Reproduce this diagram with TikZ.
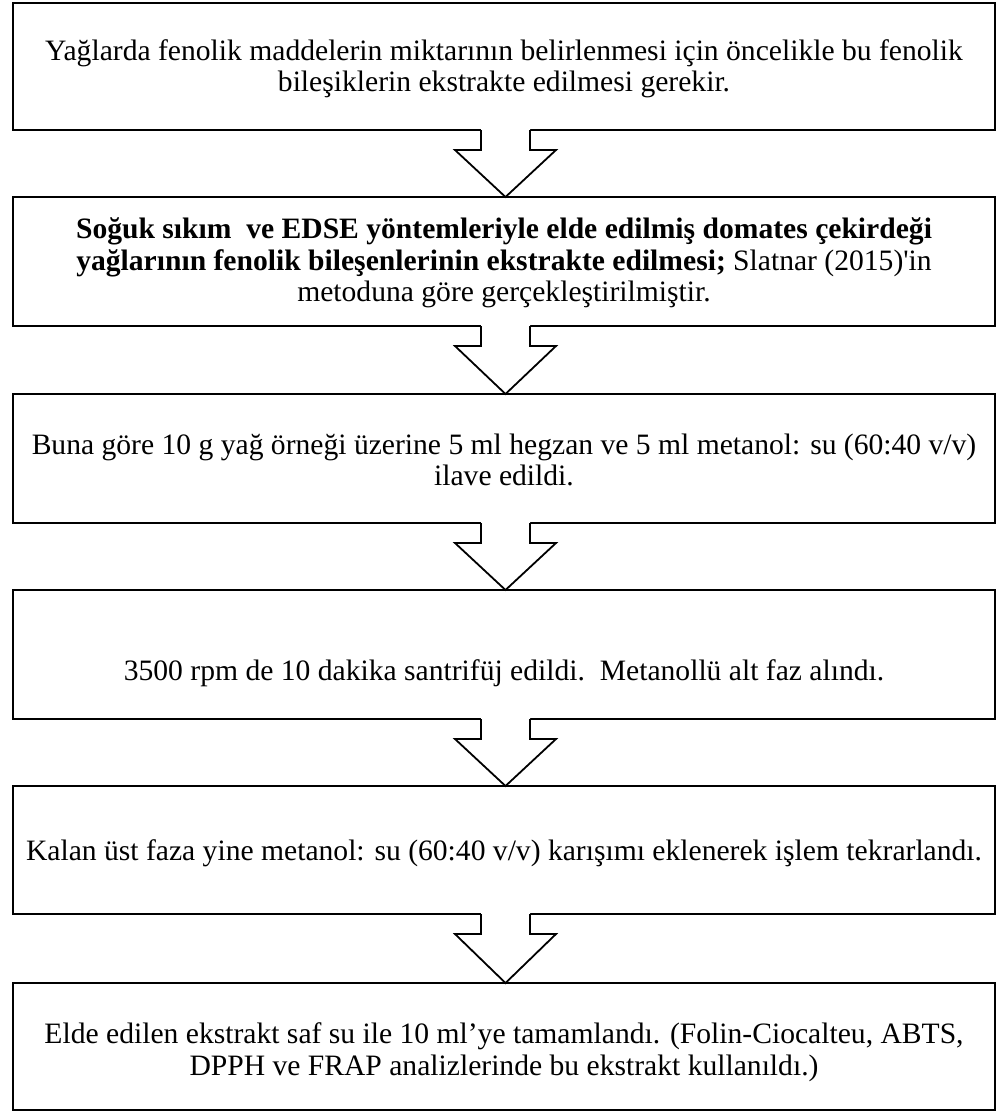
\documentclass[tikz,border=0pt]{standalone}
\usepackage{fontspec}
\setmainfont{Liberation Serif}
\usetikzlibrary{calc}
\tikzset{
  stepbox/.style={draw=black, line width=2.6pt, fill=white, rectangle, outer sep=0pt,
    minimum width=982pt, inner sep=0pt},
  steptext/.style={align=center, font=\fontsize{29.6}{31.5}\selectfont, inner sep=0pt},
  flowarrow/.style={draw=black, line width=1.8pt, line join=miter},
}
\newcommand\hollowarrow[2]{%
  \path (#1.south) ++(1.5,0) coordinate (#1top);
  \path (#2.north) ++(1.5,0) coordinate (#2tip);
  \fill[white] ($(#1top)+(-24.5,-1.6)$) -- ($(#1top)+(-24.5,20)$) -- ($(#1top)+(-50.5,20)$)
     -- (#2tip) -- ($(#1top)+(50.5,20)$) -- ($(#1top)+(24.5,20)$) -- ($(#1top)+(24.5,-1.6)$) -- cycle;
  \draw[flowarrow] ($(#1top)+(-24.5,0)$) -- ($(#1top)+(-24.5,20)$) -- ($(#1top)+(-50.5,20)$)
     -- (#2tip) -- ($(#1top)+(50.5,20)$) -- ($(#1top)+(24.5,20)$) -- ($(#1top)+(24.5,0)$);
}
\begin{document}
\begin{tikzpicture}[x=1pt,y=-1pt]
\useasboundingbox[fill=white] (0,0) rectangle (1006,1111);

\node[stepbox, minimum height=127pt] (b1) at (504,66.5) {};
\node[stepbox, minimum height=129pt] (b2) at (504,261.5) {};
\node[stepbox, minimum height=129pt] (b3) at (504,458.5) {};
\node[stepbox, minimum height=129pt] (b4) at (504,654.5) {};
\node[stepbox, minimum height=128pt] (b5) at (504,850) {};
\node[stepbox, minimum height=127pt] (b6) at (504,1046.5) {};

\node[steptext] (t1) at (504,69) {Yağlarda fenolik maddelerin miktarının belirlenmesi için öncelikle bu fenolik\\bileşiklerin ekstrakte edilmesi gerekir.};
\node[steptext] (t2) at (504,263) {\textbf{Soğuk sıkım\ \ ve EDSE yöntemleriyle elde edilmiş domates çekirdeği}\\\textbf{yağlarının fenolik bileşenlerinin ekstrakte edilmesi;} Slatnar (2015)\textquotesingle in\\metoduna göre gerçekleştirilmiştir.};
\node[steptext] (t3) at (504,460) {Buna göre 10 g yağ örneği üzerine 5 ml hegzan ve 5 ml metanol: su (60:40 v/v)\\ilave edildi.};
\node[steptext] (t4) at (504,673) {3500 rpm de 10 dakika santrifüj edildi.\ \ Metanollü alt faz alındı.};
\node[steptext] (t5) at (504,853) {Kalan üst faza yine metanol: su (60:40 v/v) karışımı eklenerek işlem tekrarlandı.};
\node[steptext] (t6) at (504,1052) {Elde edilen ekstrakt saf su ile 10 ml’ye tamamlandı. (Folin-Ciocalteu, ABTS,\\DPPH ve FRAP analizlerinde bu ekstrakt kullanıldı.)};

\hollowarrow{b1}{b2}
\hollowarrow{b2}{b3}
\hollowarrow{b3}{b4}
\hollowarrow{b4}{b5}
\hollowarrow{b5}{b6}
\end{tikzpicture}
\end{document}
